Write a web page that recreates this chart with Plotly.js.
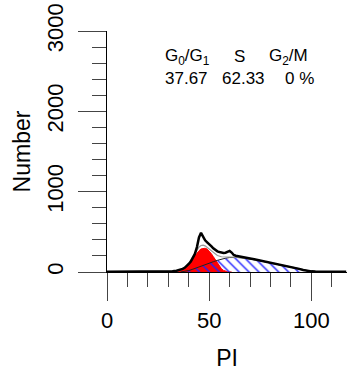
<!DOCTYPE html>
<html>
<head>
<meta charset="utf-8">
<script src="https://cdn.plot.ly/plotly-3.0.1.min.js"></script>
<style>html,body{margin:0;padding:0;background:#fff;}#chart{width:347px;height:371px;}</style>
</head>
<body>
<div id="chart"></div>
<script>
// Measured histogram (thick black line)
const xData = [0,5,10,15,20,25,30,32,34,35,36,37,38,39,40,41,42,43,44,45,46,47,48,49,50,51,52,53,54,55,56,57,58,59,60,61,62,63,64,65,66,68,70,72,74,76,78,80,82,84,86,88,90,92,94,96,98,100,102,104,106,108,110,112,114,117];
const yData = [4,4,5,4,5,4,6,9,15,20,28,38,52,72,100,130,170,225,310,430,488,440,395,370,350,322,295,272,257,250,242,238,240,252,262,242,212,202,196,190,186,179,169,158,148,137,126,114,103,94,85,75,63,51,39,26,15,8,6,5,7,5,9,5,4,4];
// G0/G1 component (red)
const xG1 = [32,33,34,35,36,37,38,39,40,41,42,43,44,45,46,47,48,49,50,51,52,53,54,55,56,57,58,59,60,61];
const yG1 = [2,4,8,13,21,33,49,71,97,129,164,200,235,265,287,296,296,285,262,230,192,150,108,70,40,20,9,4,1,0];
// S phase component (blue hatch)
const xS = [36,38,40,42,44,46,48,50,52,54,56,58,60,62,64,66,68,70,72,74,76,78,80,82,84,86,88,90,92,94,96,98,100,102];
const yS = [0,6,18,35,55,75,95,112,128,145,160,172,180,182,180,176,170,162,154,145,134,124,113,103,93,83,73,62,50,38,25,13,4,0];
// Model fit total (thin grey)
const xFit = [0,30,34,36,38,40,42,44,45,46,47,48,49,50,52,54,56,58,60,62,64,66,68,70,72,74,76,78,80,82,84,86,88,90,92,94,96,98,100,102,117];
const yFit = [0,3,10,22,55,110,190,270,310,330,335,325,305,280,235,205,190,185,185,184,181,177,171,163,155,146,135,125,114,104,94,84,74,63,51,39,26,14,5,0,0];
// Text
const phaseLabels = ['G<sub>0</sub>/G<sub>1</sub>', 'S', 'G<sub>2</sub>/M'];
const phasePercents = ['37.67', '62.33', '0 %'];
const xTickVals = [0, 50, 100];
const yTickVals = [0, 1000, 2000, 3000];

const FONT = 'Liberation Sans, Arial, sans-serif';
const W = 347, H = 371;
const L = 107, R = 0, T = 31, B = 99;
const pw = W - L - R, ph = H - T - B;
const px = p => (p - L) / pw;
const py = p => (H - B - p) / ph;

const traces = [
  {x: xG1, y: yG1, type: 'scatter', mode: 'lines', fill: 'tozeroy',
   fillcolor: '#ff0000', line: {color: '#ff0000', width: 1}, hoverinfo: 'skip'},
  {x: xS, y: yS, type: 'scatter', mode: 'lines', fill: 'tozeroy',
   fillcolor: 'rgba(0,0,0,0)',
   fillpattern: {shape: '\\', fgcolor: '#1f1fff', bgcolor: 'rgba(0,0,0,0)', size: 7, solidity: 0.2},
   line: {color: '#222', width: 1}, hoverinfo: 'skip'},
  {x: xFit, y: yFit, type: 'scatter', mode: 'lines',
   line: {color: '#999', width: 1.2}, hoverinfo: 'skip'},
  {x: xData, y: yData, type: 'scatter', mode: 'lines',
   line: {color: '#000', width: 2.5}, hoverinfo: 'skip'}
];

const annX1 = [163, 239, 267];
const annX2 = [163, 220, 283];
const annotations = [];
phaseLabels.forEach((t, i) => annotations.push({
  xref: 'paper', yref: 'paper', x: px(annX1[i]), y: py(57), text: t,
  xanchor: i === 1 ? 'center' : 'left', yanchor: 'middle', showarrow: false,
  font: {family: FONT, size: 17, color: '#000'}
}));
phasePercents.forEach((t, i) => annotations.push({
  xref: 'paper', yref: 'paper', x: px(annX2[i]), y: py(78), text: t,
  xanchor: 'left', yanchor: 'middle', showarrow: false,
  font: {family: FONT, size: 17, color: '#000'}
}));

const layout = {
  width: W, height: H,
  margin: {l: L, r: R, t: T, b: B, pad: 0},
  paper_bgcolor: '#fff', plot_bgcolor: '#fff',
  showlegend: false,
  font: {family: FONT, color: '#000'},
  xaxis: {
    range: [0, pw / 2.044], showgrid: false, zeroline: false,
    showline: true, linecolor: '#000', linewidth: 1,
    ticks: 'outside', ticklen: 28, tickcolor: '#444', tickwidth: 1,
    tickvals: xTickVals, ticktext: xTickVals.map(String),
    tickfont: {family: FONT, size: 22, color: '#000'},
    ticklabelstandoff: 1,
    minor: {dtick: 10, tick0: 0, ticks: 'outside', ticklen: 14, tickcolor: '#444', tickwidth: 1, showgrid: false},
    title: {text: 'PI', font: {family: FONT, size: 23, color: '#000'}, standoff: 21}
  },
  yaxis: {
    range: [0, 3000], showgrid: false, zeroline: false,
    showline: true, linecolor: '#000', linewidth: 1,
    ticks: 'outside', ticklen: 28, tickcolor: '#444', tickwidth: 1,
    tickvals: yTickVals, ticktext: yTickVals.map(String), tickangle: -90,
    tickfont: {family: FONT, size: 22, color: '#000'},
    ticklabelstandoff: 6,
    minor: {dtick: 200, tick0: 0, ticks: 'outside', ticklen: 14, tickcolor: '#444', tickwidth: 1, showgrid: false},
    title: {text: 'Number', font: {family: FONT, size: 23, color: '#000'}, standoff: 6}
  },
  annotations: annotations
};

Plotly.newPlot('chart', traces, layout, {displayModeBar: false, staticPlot: true});
</script>
</body>
</html>
